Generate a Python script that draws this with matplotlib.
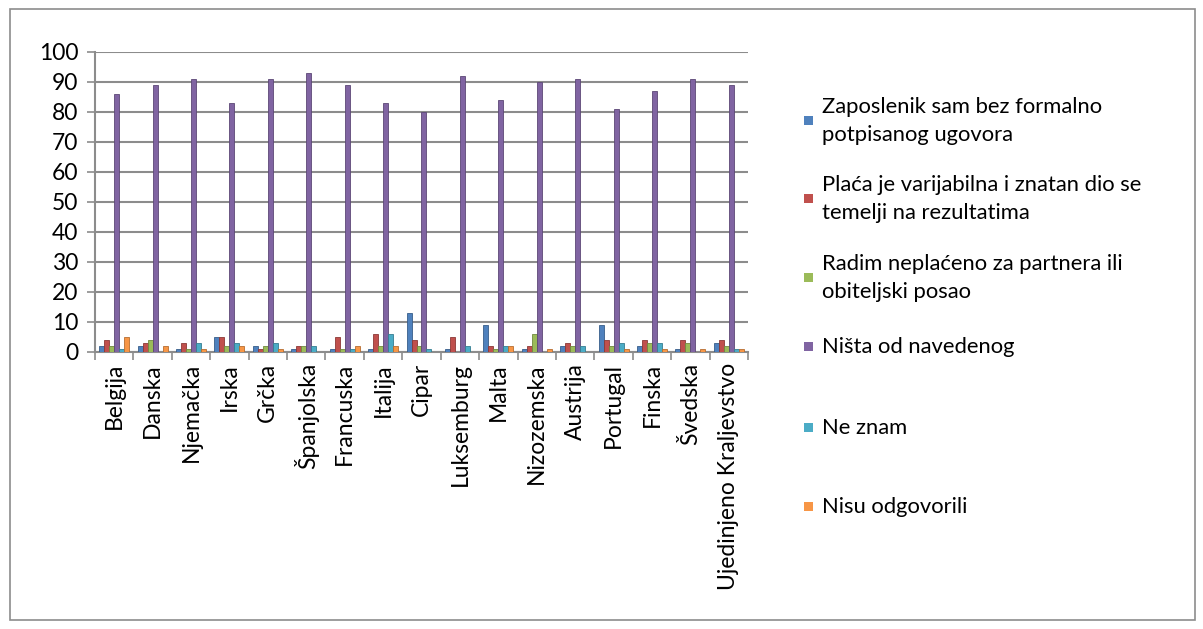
import matplotlib
matplotlib.use("Agg")
import matplotlib.pyplot as plt
import numpy as np
from matplotlib.patches import Rectangle

countries = ["Belgija", "Danska", "Njemačka", "Irska", "Grčka", "Španjolska", "Francuska",
             "Italija", "Cipar", "Luksemburg", "Malta", "Nizozemska", "Austrija", "Portugal",
             "Finska", "Švedska", "Ujedinjeno Kraljevstvo"]

series_names = ["Zaposlenik sam bez formalno\npotpisanog ugovora",
                "Plaća je varijabilna i znatan dio se\ntemelji na rezultatima",
                "Radim neplaćeno za partnera ili\nobiteljski posao",
                "Ništa od navedenog",
                "Ne znam",
                "Nisu odgovorili"]

bez_ugovora = [2, 2, 1, 5, 2, 1, 1, 1, 13, 1, 9, 1, 2, 9, 2, 1, 3]
varijabilna = [4, 3, 3, 5, 1, 2, 5, 6, 4, 5, 2, 2, 3, 4, 4, 4, 4]
neplaceno   = [2, 4, 1, 2, 2, 2, 1, 2, 2, 0, 1, 6, 2, 2, 3, 3, 2]
nista       = [86, 89, 91, 83, 91, 93, 89, 83, 80, 92, 84, 90, 91, 81, 87, 91, 89]
ne_znam     = [1, 0, 3, 3, 3, 2, 1, 6, 1, 2, 2, 0, 2, 3, 3, 0, 1]
nisu_odg    = [5, 2, 1, 2, 1, 0, 2, 2, 0, 0, 2, 1, 0, 1, 1, 1, 1]

yticks = list(range(0, 101, 10))

series = [bez_ugovora, varijabilna, neplaceno, nista, ne_znam, nisu_odg]
colors = ["#4F81BD", "#C0504D", "#9BBB59", "#8064A2", "#4BACC6", "#F79646"]
edges = ["#385D8A", "#8C3836", "#71893F", "#5C4776", "#357D91", "#B66D31"]

plt.rcParams['font.family'] = ['Lato', 'DejaVu Sans']

W, H = 1203, 629
fig = plt.figure(figsize=(W / 100, H / 100), dpi=100)
fig.patches.append(Rectangle((10 / W, 9 / H), 1185 / W, 611 / H, transform=fig.transFigure,
                             fill=False, edgecolor="#8C8C8C", linewidth=1.2))

ax = fig.add_axes([95 / W, 1 - 352 / H, (748 - 95) / W, 300 / H])
x = np.arange(len(countries))
bw = 0.13
for i, (vals, c, ec) in enumerate(zip(series, colors, edges)):
    ax.bar(x + (i - 2.5) * bw, vals, width=bw, color=c, edgecolor=ec, linewidth=0.6, zorder=3)

ax.set_xlim(-0.5, len(countries) - 0.5)
ax.set_ylim(0, 100)
ax.set_yticks(yticks)
ax.set_yticklabels([str(v) for v in yticks], fontsize=16.5)
ax.yaxis.grid(True, color="#8C8C8C", linewidth=1.5, zorder=0)
ax.set_axisbelow(True)
for s in ["top", "right"]:
    ax.spines[s].set_visible(False)
ax.spines["left"].set_color("#8C8C8C")
ax.spines["left"].set_linewidth(1.5)
ax.spines["bottom"].set_color("#8C8C8C")
ax.spines["bottom"].set_linewidth(1.5)
ax.tick_params(axis="y", length=6, color="#8C8C8C", width=1.2, pad=6)

ax.set_xticks(np.arange(len(countries) + 1) - 0.5, minor=False)
ax.set_xticklabels([])
ax.tick_params(axis="x", which="major", length=6, color="#8C8C8C", width=1.2)
ax.set_xticks(x, minor=True)
ax.set_xticklabels(countries, minor=True, rotation=90, fontsize=16.5, va="top", ha="center")
ax.tick_params(axis="x", which="minor", length=0, pad=8)

# legend
legend_y = [121, 199, 278, 347, 428, 507]
for name, c, yy in zip(series_names, colors, legend_y):
    fig.patches.append(Rectangle((804 / W, 1 - (yy + 4) / H), 9 / W, 9 / H,
                                 transform=fig.transFigure, facecolor=c, edgecolor="none"))
    fig.text(822 / W, 1 - yy / H, name, fontsize=15.8, va="center", ha="left",
             linespacing=1.55)

fig.savefig("out.png", dpi=100)
